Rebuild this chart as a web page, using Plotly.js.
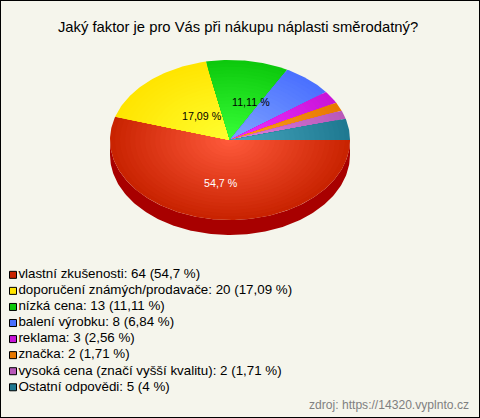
<!DOCTYPE html>
<html>
<head>
<meta charset="utf-8">
<script src="https://cdn.plot.ly/plotly-3.0.1.min.js"></script>
<style>html,body{margin:0;padding:0;background:#f5f5ec}#chart{width:480px;height:418px}</style>
</head>
<body>
<div id="chart"></div>
<script>
var chartTitle = "Jaký faktor je pro Vás při nákupu náplasti směrodatný?";
var sourceText = "zdroj: https://14320.vyplnto.cz";
var categories = ["vlastní zkušenosti","doporučení známých/prodavače","nízká cena","balení výrobku","reklama","značka","vysoká cena (značí vyšší kvalitu)","Ostatní odpovědi"];
var counts = [64,20,13,8,3,2,2,5];
var percentLabels = ["54,7 %","17,09 %","11,11 %","6,84 %","2,56 %","1,71 %","1,71 %","4 %"];
var edgeColors = ["#c82200","#ffe400","#0cc80c","#4a70ff","#c814d8","#e87800","#b858b8","#1e7890"];
var centerColors = ["#ff5a3c","#ffff30","#38ff38","#80a4ff","#f030ff","#ffa020","#e080e0","#48a8c0"];
var sideColor = "#a80000";
var sliceLabelIndex = [0,1,2];
var sliceLabelColors = ["#ffffff","#000000","#000000"];
var sliceLabelX = [-0.075,-0.23,0.175];
var sliceLabelY = [-0.54,0.30,0.475];

var W = 480, H = 418, RX = 120, RY = 80, CX = 230, CY = 140, DEPTH = 15;
var BANDS = 24;
var total = counts.reduce(function(a,b){return a+b;},0);

function hexToRgb(h){return [parseInt(h.substr(1,2),16),parseInt(h.substr(3,2),16),parseInt(h.substr(5,2),16)];}
function mix(a,b,t){
  var p=hexToRgb(a),q=hexToRgb(b);
  return "rgb("+[0,1,2].map(function(i){return Math.round(p[i]+(q[i]-p[i])*t);}).join(",")+")";
}
var traces = [];

// side wall (unit-circle axes are scaled to the ellipse; wall depth expressed in y units)
var wx=[],wy=[],d=DEPTH/RY;
for(var a=0;a<=180;a++){wx.push(Math.cos(a*Math.PI/180));wy.push(-Math.sin(a*Math.PI/180)-d);}
for(var a=180;a>=0;a--){wx.push(Math.cos(a*Math.PI/180));wy.push(-Math.sin(a*Math.PI/180));}
traces.push({type:"scatter",mode:"lines",x:wx,y:wy,fill:"toself",fillcolor:sideColor,line:{width:0},hoverinfo:"skip",showlegend:false});

// slices (clockwise from east), each as nested sectors for the radial shading
var cum=0;
counts.forEach(function(v,i){
  var a0=cum/total*2*Math.PI,a1=(cum+v)/total*2*Math.PI;cum+=v;
  var steps=Math.max(2,Math.ceil((a1-a0)/(Math.PI/180)));
  for(var k=BANDS;k>=1;k--){
    var r=k/BANDS,xs=[0],ys=[0];
    for(var s=0;s<=steps;s++){
      var t=a0+(a1-a0)*s/steps;
      xs.push(r*Math.cos(t));ys.push(-r*Math.sin(t));
    }
    xs.push(0);ys.push(0);
    traces.push({type:"scatter",mode:"lines",x:xs,y:ys,fill:"toself",
      fillcolor:mix(centerColors[i],edgeColors[i],(k-0.5)/BANDS),line:{width:0},
      hoverinfo:"skip",showlegend:false});
  }
});

// legend rows
var legendText=categories.map(function(c,i){return c+": "+counts[i]+" ("+percentLabels[i]+")";});
traces.push({type:"scatter",mode:"markers+text",xaxis:"x2",yaxis:"y2",
  x:categories.map(function(){return 13;}),
  y:categories.map(function(c,i){return i;}),
  text:legendText,textposition:"middle right",cliponaxis:false,
  textfont:{family:"Liberation Sans, Arial, sans-serif",size:13.35,color:"#000"},
  marker:{symbol:"square",size:7,color:edgeColors,line:{color:"#000",width:1}},
  hoverinfo:"skip",showlegend:false});

var annotations=sliceLabelIndex.map(function(idx,j){
  return {x:sliceLabelX[j],y:sliceLabelY[j],xref:"x",yref:"y",text:percentLabels[idx],showarrow:false,
    font:{family:"Liberation Sans, Arial, sans-serif",size:10.7,color:sliceLabelColors[j]}};
});
annotations.push({xref:"paper",yref:"paper",x:471/W,y:(H-405)/H,xanchor:"right",yanchor:"middle",showarrow:false,
  text:sourceText,font:{family:"Liberation Sans, Arial, sans-serif",size:12.1,color:"#808080"}});

var hidden={visible:false,fixedrange:true};
var layout={
  width:W,height:H,margin:{l:0,r:0,t:0,b:0},showlegend:false,
  paper_bgcolor:"#f5f5ec",plot_bgcolor:"rgba(0,0,0,0)",
  title:{text:chartTitle,x:238/W,xanchor:"center",xref:"paper",y:(H-26.5)/H,yanchor:"middle",
    font:{family:"Liberation Sans, Arial, sans-serif",size:14.8,color:"#000"}},
  xaxis:Object.assign({domain:[0,1],range:[-CX/RX,(W-CX)/RX]},hidden),
  yaxis:Object.assign({domain:[0,1],range:[-(H-CY)/RY,CY/RY]},hidden),
  xaxis2:Object.assign({domain:[0,1],range:[0,W],anchor:"y2"},hidden),
  yaxis2:Object.assign({domain:[(H-395.3)/H,(H-266.8)/H],range:[7.5,-0.5],anchor:"x2"},hidden),
  annotations:annotations,
  shapes:[{type:"rect",xref:"paper",yref:"paper",x0:0,x1:1,y0:0,y1:1,line:{color:"#000",width:2},fillcolor:"rgba(0,0,0,0)"}]
};
Plotly.newPlot("chart",traces,layout,{displayModeBar:false,staticPlot:true});
</script>
</body>
</html>
